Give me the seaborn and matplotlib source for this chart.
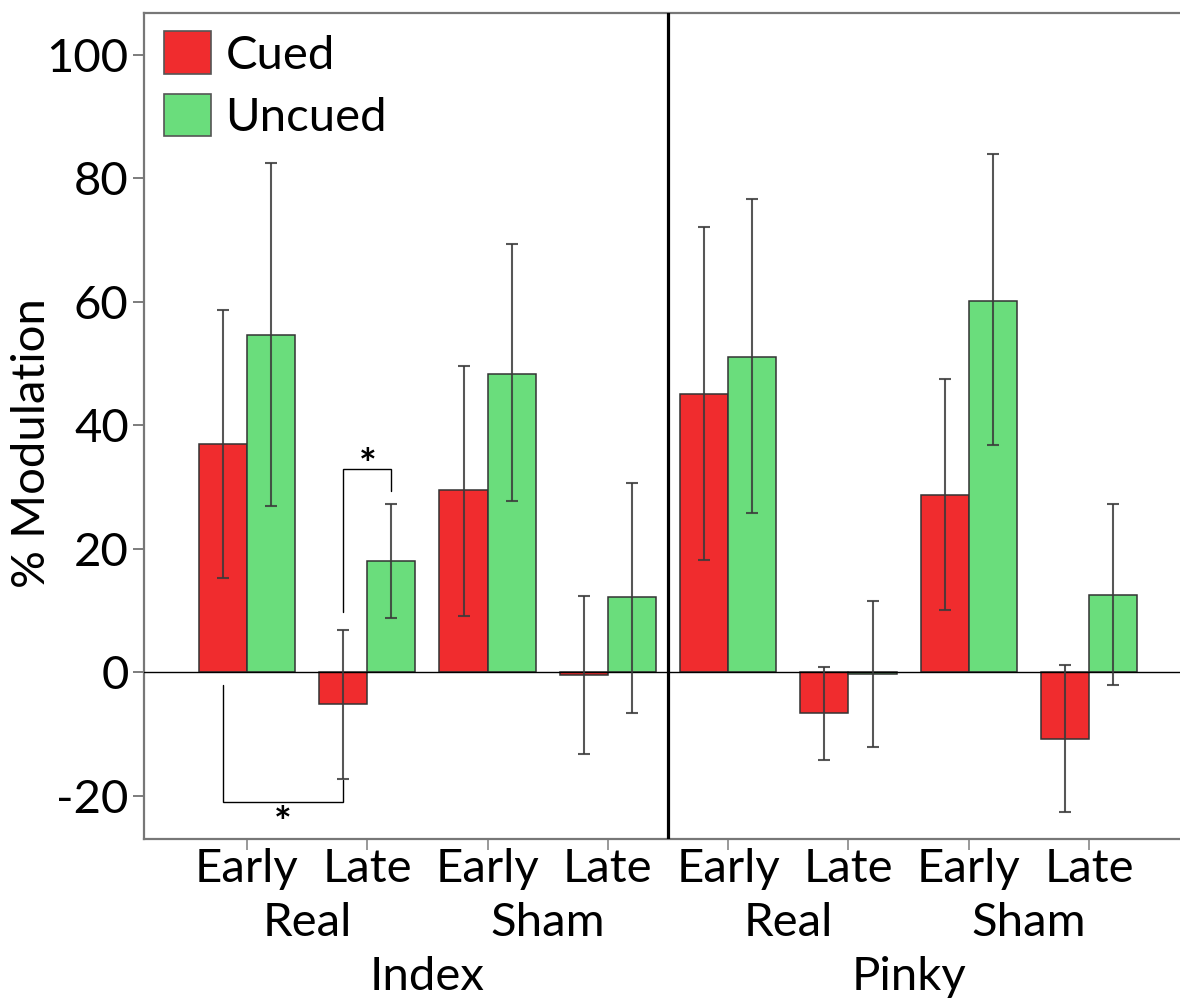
import numpy as np
import pandas as pd
import matplotlib
matplotlib.use("Agg")
import matplotlib.pyplot as plt
import matplotlib.transforms as mtransforms
from matplotlib.patches import Patch
import seaborn as sns

# ---------------- data ----------------
categories = ["Index Early Real", "Index Late Real", "Index Early Sham", "Index Late Sham",
              "Pinky Early Real", "Pinky Late Real", "Pinky Early Sham", "Pinky Late Sham"]
tick_labels = ["Early", "Late", "Early", "Late", "Early", "Late", "Early", "Late"]
condition_labels = ["Real", "Sham", "Real", "Sham"]
finger_labels = ["Index", "Pinky"]

cued = [37.0, -5.1, 29.5, -0.4, 45.0, -6.6, 28.7, -10.7]
cued_lo = [15.3, -17.2, 9.2, -13.2, 18.2, -14.2, 10.1, -22.6]
cued_hi = [58.6, 6.9, 49.6, 12.4, 72.1, 0.9, 47.5, 1.2]

uncued = [54.6, 18.1, 48.3, 12.3, 51.1, -0.3, 60.2, 12.6]
uncued_lo = [27.0, 8.9, 27.7, -6.5, 25.8, -12.1, 36.8, -2.1]
uncued_hi = [82.5, 27.3, 69.4, 30.7, 76.6, 11.5, 83.9, 27.2]

series_names = ["Cued", "Uncued"]
series_colors = ["#F02C2E", "#6ADD7C"]

# significance brackets: (left bar, right bar, left y start, top y, right y end)
sig1_bars = [("Index Late Real", "Cued"), ("Index Late Real", "Uncued")]
sig1_y = [9.8, 32.9, 29.4]
sig2_bars = [("Index Early Real", "Cued"), ("Index Late Real", "Cued")]
sig2_y = [-2.0, -21.0, -17.4]

# ---------------- figure ----------------
sns.set_theme(style="white")
plt.rcParams["font.family"] = ["Lato", "DejaVu Sans"]
plt.rcParams["text.color"] = "black"
plt.rcParams["axes.labelcolor"] = "black"
plt.rcParams["xtick.labelcolor"] = "black"
plt.rcParams["ytick.labelcolor"] = "black"
FS = 34

df = pd.DataFrame({
    "cond": categories * 2,
    "cue": ["Cued"] * len(categories) + ["Uncued"] * len(categories),
    "value": cued + uncued,
    "lo": cued_lo + uncued_lo,
    "hi": cued_hi + uncued_hi,
})

fig = plt.figure(figsize=(11.8, 10.01), dpi=100)
ax = fig.add_axes([144 / 1180, 1 - 839.3 / 1001, 1 - 144 / 1180, (839.3 - 13.3) / 1001])

sns.barplot(data=df, x="cond", y="value", hue="cue", order=categories,
            hue_order=series_names, palette=series_colors, errorbar=None,
            width=0.8, edgecolor="#333333", linewidth=1.1, saturation=1,
            legend=False, ax=ax)

# error bars at the bar centres
centers = {}
for cont, name in zip(ax.containers, series_names):
    sub = df[df["cue"] == name].set_index("cond").loc[categories]
    xs = [b.get_x() + b.get_width() / 2 for b in cont]
    for c, x in zip(categories, xs):
        centers[(c, name)] = x
    vals = sub["value"].to_numpy()
    yerr = np.vstack([vals - sub["lo"].to_numpy(), sub["hi"].to_numpy() - vals])
    ax.errorbar(xs, vals, yerr=yerr, fmt="none", ecolor="#3a3a3a", alpha=0.85,
                elinewidth=1.5, capsize=4, capthick=1.5, zorder=4)

ax.axhline(0, color="black", lw=1.0, zorder=3)
ax.axvline(3.5, color="black", lw=2.3, zorder=5)

# significance brackets
def bracket(bars, ys, star_y):
    x1 = centers[bars[0]]
    x2 = centers[bars[1]]
    ax.plot([x1, x1, x2, x2], [ys[0], ys[1], ys[1], ys[2]], color="black", lw=1.0,
            zorder=6, solid_joinstyle="miter")
    ax.text((x1 + x2) / 2, star_y, "*", ha="center", va="baseline", fontsize=30,
            fontweight="bold", zorder=7, clip_on=False)

bracket(sig1_bars, sig1_y, 31.3)
bracket(sig2_bars, sig2_y, -26.6)

# axes styling
ax.set_xlim(-0.856, 7.756)
ax.set_ylim(-27.0, 106.7)
ax.set_yticks([-20, 0, 20, 40, 60, 80, 100])
ax.set_yticklabels(["-20", "0", "20", "40", "60", "80", "100"])
ax.set_xticks(range(len(categories)))
ax.set_xticklabels(tick_labels)
ax.tick_params(axis="y", which="major", direction="out", length=8, width=1.2,
               color="#666666", labelcolor="black", labelsize=FS, pad=3, left=True)
ax.tick_params(axis="x", which="major", direction="out", length=8, width=1.2,
               color="#888888", labelcolor="black", labelsize=FS, pad=-2, bottom=True)
ax.set_xlabel("")
ax.set_ylabel("% Modulation", fontsize=FS, va="center", color="black")
ax.yaxis.set_label_coords(-0.108, 0.48)
for side in ["left", "top", "bottom"]:
    ax.spines[side].set_visible(True)
    ax.spines[side].set_color("#777777")
    ax.spines[side].set_linewidth(1.6)
ax.spines["right"].set_visible(False)

# group labels under the tick labels
trans = mtransforms.blended_transform_factory(ax.transData, ax.transAxes)
for i, lab in enumerate(condition_labels):
    ax.text(2 * i + 0.5, -0.101, lab, transform=trans, ha="center", va="center",
            fontsize=FS, color="black")
for i, lab in enumerate(finger_labels):
    ax.text(4 * i + 1.5, -0.167, lab, transform=trans, ha="center", va="center",
            fontsize=FS, color="black")

# legend
handles = [Patch(facecolor=c, edgecolor="#555555", linewidth=1.2) for c in series_colors]
leg = ax.legend(handles, series_names, loc="upper left", bbox_to_anchor=(0.0193, 0.978),
                frameon=False, fontsize=FS, handlelength=1.0, handleheight=1.0,
                handletextpad=0.3, labelspacing=0.36, borderpad=0, borderaxespad=0)
for t in leg.get_texts():
    t.set_color("black")

fig.savefig("out.png", dpi=100)
